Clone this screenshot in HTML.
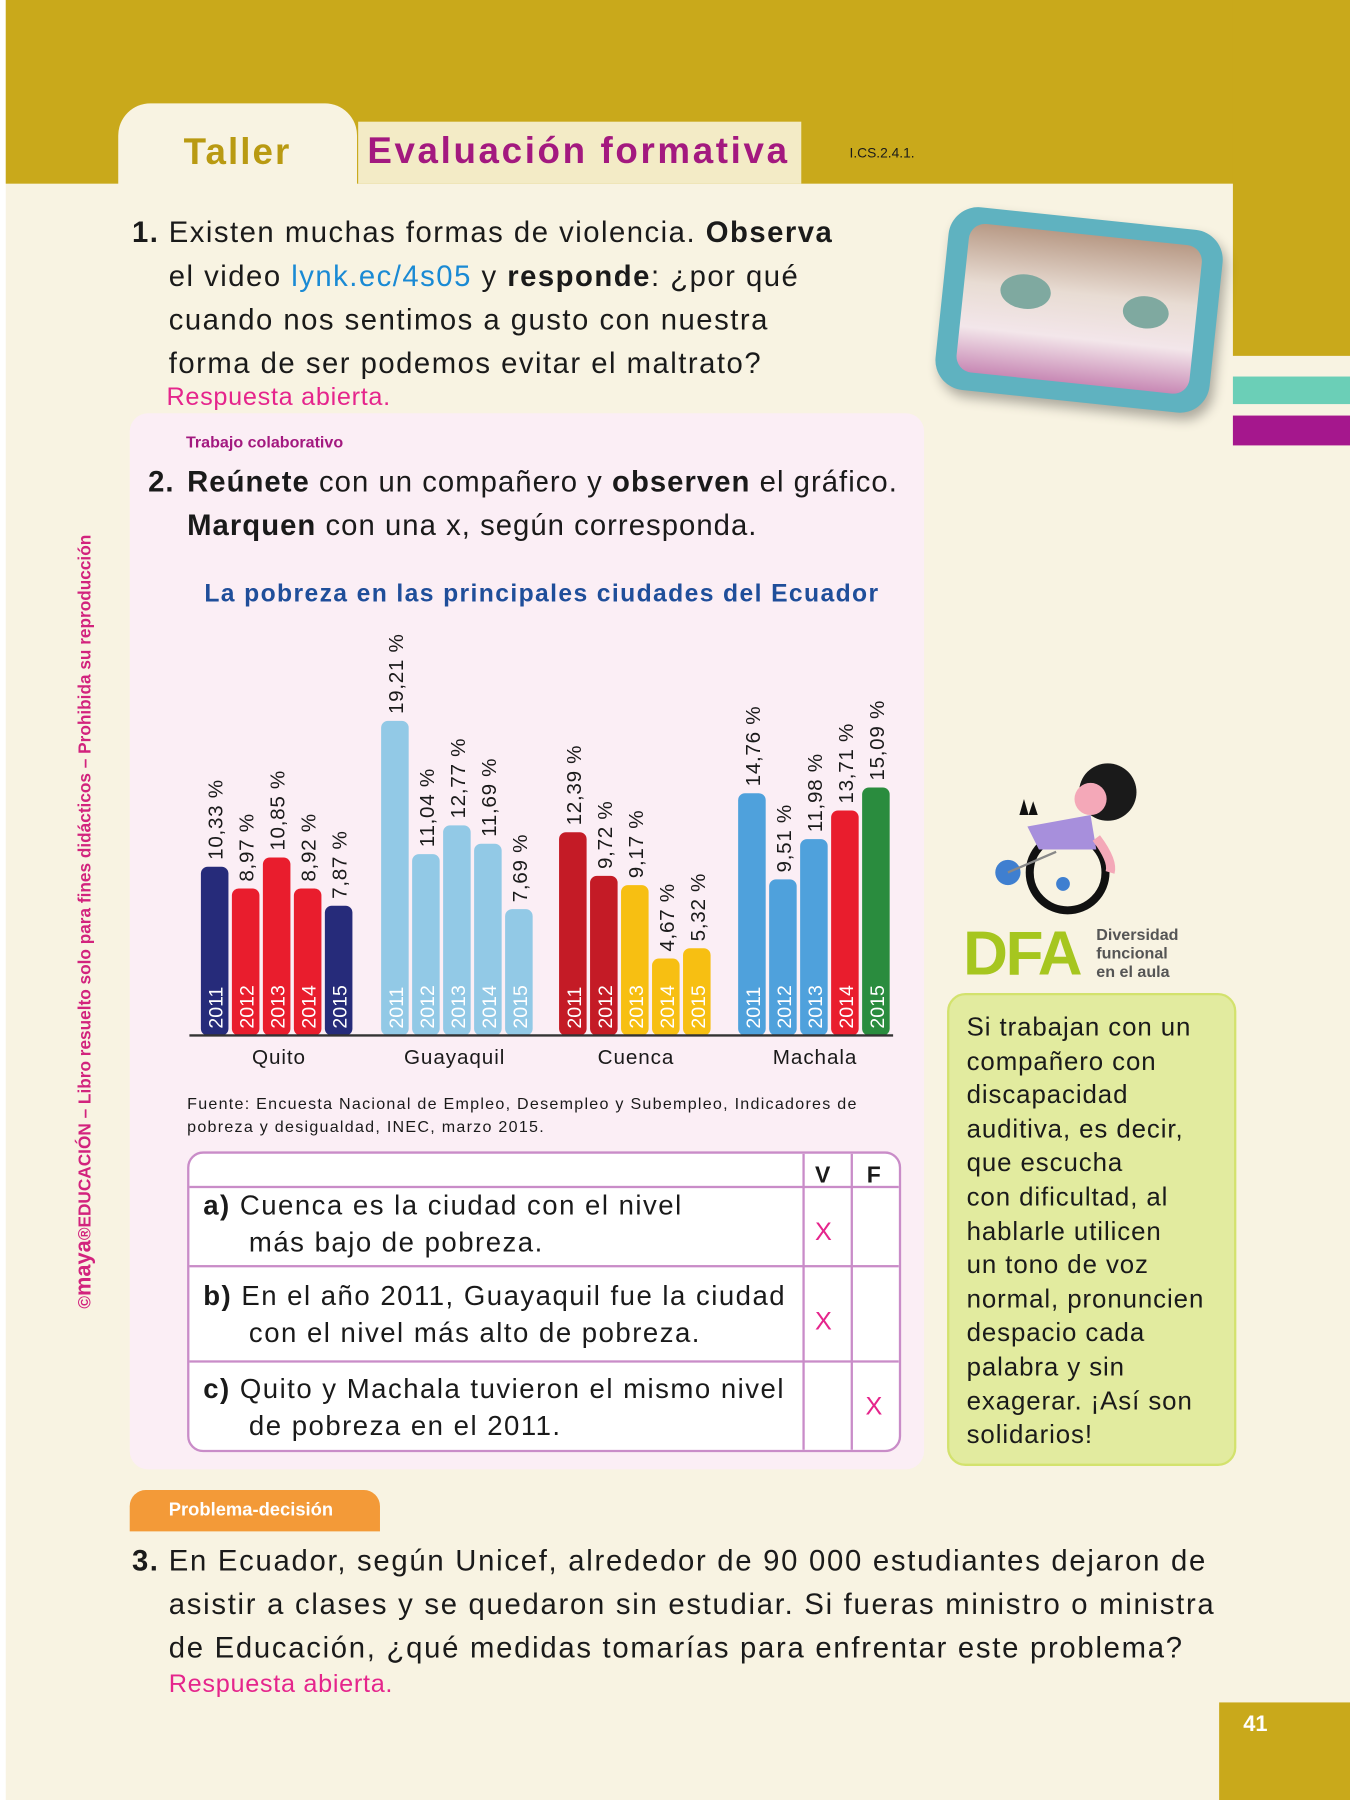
<!DOCTYPE html>
<html><head><meta charset="utf-8"><style>
html,body{margin:0;padding:0;width:1350px;height:1800px;overflow:hidden;background:#f8f3e2}
#p{position:absolute;left:0;top:0;width:1176px;height:1568px;transform:scale(1.147959);transform-origin:0 0;font-family:"Liberation Sans",sans-serif;color:#1a1a1a;background:#f8f3e2}
.a{position:absolute;white-space:nowrap}
.q{font-size:25.5px;line-height:38px;letter-spacing:1.3px}
.pk{color:#e5258c;letter-spacing:0.6px}
</style></head><body><div id="p">
<div class="a" style="left:0;top:0;width:5px;height:1568px;background:#fff"></div>
<div class="a" style="left:5px;top:0;width:1171px;height:160px;background:#c9a91b"></div>
<div class="a" style="left:1074px;top:0;width:102px;height:310px;background:#c9a91b"></div>
<div class="a" style="left:1074px;top:328px;width:102px;height:24px;background:#6bcfb7"></div>
<div class="a" style="left:1074px;top:362px;width:102px;height:26px;background:#a5178d"></div>
<div class="a" style="left:103px;top:90px;width:208px;height:75px;background:#f8f3e2;border-radius:28px 28px 0 0"></div>
<div class="a" style="left:160px;top:114px;font-size:32px;font-weight:bold;color:#b99a12;letter-spacing:1.8px">Taller</div>
<div class="a" style="left:312px;top:106px;width:386px;height:54px;background:#f3ebc6"></div>
<div class="a" style="left:320px;top:113px;font-size:32px;font-weight:bold;color:#a3197f;letter-spacing:2.3px">Evaluación formativa</div>
<div class="a" style="left:740px;top:126px;font-size:12px">I.CS.2.4.1.</div>

<div class="a q" style="left:115px;top:184px"><b>1.</b></div>
<div class="a q" style="left:147px;top:184px">Existen muchas formas de violencia. <b>Observa</b><br>el video <span style="color:#1a8ad4">lynk.ec/4s05</span> y <b>responde</b>: ¿por qué<br>cuando nos sentimos a gusto con nuestra<br>forma de ser podemos evitar el maltrato?</div>
<div class="a pk" style="left:145px;top:333px;font-size:22px">Respuesta abierta.</div>

<div class="a" style="left:820px;top:190px;width:240px;height:160px;transform:rotate(6deg);border-radius:26px;background:#5fb2c0;box-shadow:4px 6px 10px rgba(0,0,0,.3)">
 <div style="position:absolute;left:18px;top:14px;right:18px;bottom:16px;border-radius:14px;background:linear-gradient(180deg,#b89a86 0%,#e8dcd3 40%,#f3e6ea 70%,#c889b5 100%)">
  <div style="position:absolute;left:32px;top:40px;width:44px;height:30px;border-radius:50%;background:#7fa9a0"></div>
  <div style="position:absolute;left:140px;top:48px;width:40px;height:28px;border-radius:50%;background:#7fa9a0"></div>
 </div></div>

<div class="a" style="left:113px;top:360px;width:692px;height:920px;background:#fbeef5;border-radius:16px"></div>
<div class="a" style="left:162px;top:377px;font-size:14px;font-weight:bold;color:#a3197f">Trabajo colaborativo</div>
<div class="a q" style="left:129px;top:401px;letter-spacing:0.9px"><b>2.</b></div>
<div class="a q" style="left:163px;top:401px;letter-spacing:0.9px"><b>Reúnete</b> con un compañero y <b>observen</b> el gráfico.<br><b>Marquen</b> con una x, según corresponda.</div>
<div class="a" style="left:178px;top:505px;font-size:21.5px;font-weight:bold;color:#1f4e9a;letter-spacing:1.2px">La pobreza en las principales ciudades del Ecuador</div>

<svg class="a" style="left:0;top:0" width="1176" height="1000">
<g font-family="Liberation Sans,sans-serif" font-size="17">
<g>
<rect x="175" y="755" width="24" height="147" rx="6" fill="#262b7a"/>
<rect x="202" y="774" width="24" height="128" rx="6" fill="#e91d2d"/>
<rect x="229" y="747" width="24" height="155" rx="6" fill="#e91d2d"/>
<rect x="256" y="774" width="24" height="128" rx="6" fill="#e91d2d"/>
<rect x="283" y="789" width="24" height="113" rx="6" fill="#262b7a"/>
<rect x="332" y="628" width="24" height="274" rx="6" fill="#92c9e6"/>
<rect x="359" y="744" width="24" height="158" rx="6" fill="#92c9e6"/>
<rect x="386" y="719" width="24" height="183" rx="6" fill="#92c9e6"/>
<rect x="413" y="735" width="24" height="167" rx="6" fill="#92c9e6"/>
<rect x="440" y="792" width="24" height="110" rx="6" fill="#92c9e6"/>
<rect x="487" y="725" width="24" height="177" rx="6" fill="#c41b26"/>
<rect x="514" y="763" width="24" height="139" rx="6" fill="#c41b26"/>
<rect x="541" y="771" width="24" height="131" rx="6" fill="#f7bf12"/>
<rect x="568" y="835" width="24" height="67" rx="6" fill="#f7bf12"/>
<rect x="595" y="826" width="24" height="76" rx="6" fill="#f7bf12"/>
<rect x="643" y="691" width="24" height="211" rx="6" fill="#4fa1dc"/>
<rect x="670" y="766" width="24" height="136" rx="6" fill="#4fa1dc"/>
<rect x="697" y="731" width="24" height="171" rx="6" fill="#4fa1dc"/>
<rect x="724" y="706" width="24" height="196" rx="6" fill="#e91d2d"/>
<rect x="751" y="686" width="24" height="216" rx="6" fill="#2a8c3e"/>
</g>
<g fill="#fff" font-size="17">
<text transform="translate(194,896) rotate(-90)">2011</text><text transform="translate(221,896) rotate(-90)">2012</text><text transform="translate(248,896) rotate(-90)">2013</text><text transform="translate(275,896) rotate(-90)">2014</text><text transform="translate(302,896) rotate(-90)">2015</text>
<text transform="translate(351,896) rotate(-90)">2011</text><text transform="translate(378,896) rotate(-90)">2012</text><text transform="translate(405,896) rotate(-90)">2013</text><text transform="translate(432,896) rotate(-90)">2014</text><text transform="translate(459,896) rotate(-90)">2015</text>
<text transform="translate(506,896) rotate(-90)">2011</text><text transform="translate(533,896) rotate(-90)">2012</text><text transform="translate(560,896) rotate(-90)">2013</text><text transform="translate(587,896) rotate(-90)">2014</text><text transform="translate(614,896) rotate(-90)">2015</text>
<text transform="translate(662,896) rotate(-90)">2011</text><text transform="translate(689,896) rotate(-90)">2012</text><text transform="translate(716,896) rotate(-90)">2013</text><text transform="translate(743,896) rotate(-90)">2014</text><text transform="translate(770,896) rotate(-90)">2015</text>
</g>
<g fill="#1a1a1a" font-size="18" letter-spacing="0.6">
<text transform="translate(194,749) rotate(-90)">10,33 %</text><text transform="translate(221,768) rotate(-90)">8,97 %</text><text transform="translate(248,741) rotate(-90)">10,85 %</text><text transform="translate(275,768) rotate(-90)">8,92 %</text><text transform="translate(302,783) rotate(-90)">7,87 %</text>
<text transform="translate(351,622) rotate(-90)">19,21 %</text><text transform="translate(378,738) rotate(-90)">11,04 %</text><text transform="translate(405,713) rotate(-90)">12,77 %</text><text transform="translate(432,729) rotate(-90)">11,69 %</text><text transform="translate(459,786) rotate(-90)">7,69 %</text>
<text transform="translate(506,719) rotate(-90)">12,39 %</text><text transform="translate(533,757) rotate(-90)">9,72 %</text><text transform="translate(560,765) rotate(-90)">9,17 %</text><text transform="translate(587,829) rotate(-90)">4,67 %</text><text transform="translate(614,820) rotate(-90)">5,32 %</text>
<text transform="translate(662,685) rotate(-90)">14,76 %</text><text transform="translate(689,760) rotate(-90)">9,51 %</text><text transform="translate(716,725) rotate(-90)">11,98 %</text><text transform="translate(743,700) rotate(-90)">13,71 %</text><text transform="translate(770,680) rotate(-90)">15,09 %</text>
</g>
<line x1="165" y1="902" x2="778" y2="902" stroke="#333" stroke-width="2"/>
<g font-size="18" text-anchor="middle" fill="#1a1a1a" letter-spacing="0.8">
<text x="243" y="927">Quito</text><text x="396" y="927">Guayaquil</text><text x="554" y="927">Cuenca</text><text x="710" y="927">Machala</text></g>
</g></svg>

<div class="a" style="left:163px;top:951px;font-size:14px;line-height:20px;letter-spacing:1.1px">Fuente: Encuesta Nacional de Empleo, Desempleo y Subempleo, Indicadores de<br>pobreza y desigualdad, INEC, marzo 2015.</div>

<div class="a" style="left:163px;top:1003px;width:618px;height:258px;border:2px solid #c98cc8;border-radius:14px;background:#fff;overflow:hidden">
 <div class="a" style="left:0;top:28px;width:618px;border-top:2px solid #c98cc8"></div>
 <div class="a" style="left:0;top:97px;width:618px;border-top:2px solid #c98cc8"></div>
 <div class="a" style="left:0;top:180px;width:618px;border-top:2px solid #c98cc8"></div>
 <div class="a" style="left:534px;top:0;height:258px;border-left:2px solid #c98cc8"></div>
 <div class="a" style="left:576px;top:0;height:258px;border-left:2px solid #c98cc8"></div>
 <div class="a" style="left:545px;top:8px;font-size:20px;font-weight:bold">V</div>
 <div class="a" style="left:590px;top:8px;font-size:20px;font-weight:bold">F</div>
 <div class="a" style="left:12px;top:30px;font-size:24px;line-height:32px;letter-spacing:1.3px"><b>a)</b> Cuenca es la ciudad con el nivel<br>&nbsp;&nbsp;&nbsp;&nbsp;&nbsp;más bajo de pobreza.</div>
 <div class="a" style="left:12px;top:109px;font-size:24px;line-height:32px;letter-spacing:1.3px"><b>b)</b> En el año 2011, Guayaquil fue la ciudad<br>&nbsp;&nbsp;&nbsp;&nbsp;&nbsp;con el nivel más alto de pobreza.</div>
 <div class="a" style="left:12px;top:190px;font-size:24px;line-height:32px;letter-spacing:1.3px"><b>c)</b> Quito y Machala tuvieron el mismo nivel<br>&nbsp;&nbsp;&nbsp;&nbsp;&nbsp;de pobreza en el 2011.</div>
 <div class="a pk" style="left:545px;top:55px;font-size:22px">X</div>
 <div class="a pk" style="left:545px;top:133px;font-size:22px">X</div>
 <div class="a pk" style="left:589px;top:207px;font-size:22px">X</div>
</div>

<div class="a" style="left:63px;top:1140px;transform:rotate(-90deg);transform-origin:0 0;font-size:15px;color:#d2237d;font-weight:bold">©<b style="font-size:19px">maya</b>®EDUCACIÓN – Libro resuelto solo para fines didácticos – Prohibida su reproducción</div>

<svg class="a" style="left:850px;top:660px" width="150" height="150">
<circle cx="80" cy="100" r="33" fill="none" stroke="#111" stroke-width="7"/>
<circle cx="28" cy="100" r="11" fill="#3f7fd0"/><circle cx="76" cy="110" r="6" fill="#3f7fd0"/>
<line x1="28" y1="100" x2="70" y2="82" stroke="#888" stroke-width="2"/>
<path d="M45 60 L100 50 L105 80 L55 80 Z" fill="#a78fdc"/>
<path d="M38 50 l4 -14 l4 14 l4 -12 l4 12z" fill="#111"/>
<circle cx="115" cy="30" r="25" fill="#1a1a1a"/><circle cx="100" cy="36" r="14" fill="#f4a8b8"/>
<path d="M105 70 q15 20 12 30" stroke="#f4a8b8" stroke-width="8" fill="none"/>
</svg>
<div class="a" style="left:839px;top:800px;font-size:54px;font-weight:bold;color:#a6c61f;letter-spacing:-2px">DFA</div>
<div class="a" style="left:955px;top:806px;font-size:14px;line-height:16px;color:#555;font-weight:bold">Diversidad<br>funcional<br>en el aula</div>
<div class="a" style="left:825px;top:865px;width:248px;height:408px;background:#e2eb9f;border:2px solid #d3e26d;border-radius:16px"></div>
<div class="a" style="left:842px;top:880px;font-size:22.5px;line-height:29.6px;letter-spacing:0.8px;color:#1a1a1a">Si trabajan con un<br>compañero con<br>discapacidad<br>auditiva, es decir,<br>que escucha<br>con dificultad, al<br>hablarle utilicen<br>un tono de voz<br>normal, pronuncien<br>despacio cada<br>palabra y sin<br>exagerar. ¡Así son<br>solidarios!</div>

<div class="a" style="left:113px;top:1298px;width:218px;height:36px;background:#f39a38;border-radius:14px 14px 0 0"></div>
<div class="a" style="left:147px;top:1307px;font-size:16px;font-weight:bold;color:#fff">Problema-decisión</div>
<div class="a q" style="left:115px;top:1341px"><b>3.</b></div>
<div class="a q" style="left:147px;top:1341px;letter-spacing:1.5px">En Ecuador, según Unicef, alrededor de 90 000 estudiantes dejaron de<br>asistir a clases y se quedaron sin estudiar. Si fueras ministro o ministra<br>de Educación, ¿qué medidas tomarías para enfrentar este problema?</div>
<div class="a pk" style="left:147px;top:1454px;font-size:22px">Respuesta abierta.</div>

<div class="a" style="left:1062px;top:1483px;width:114px;height:85px;background:#c9a91b"></div>
<div class="a" style="left:1083px;top:1492px;font-size:19px;color:#fff;font-weight:bold">41</div>
</div></body></html>
